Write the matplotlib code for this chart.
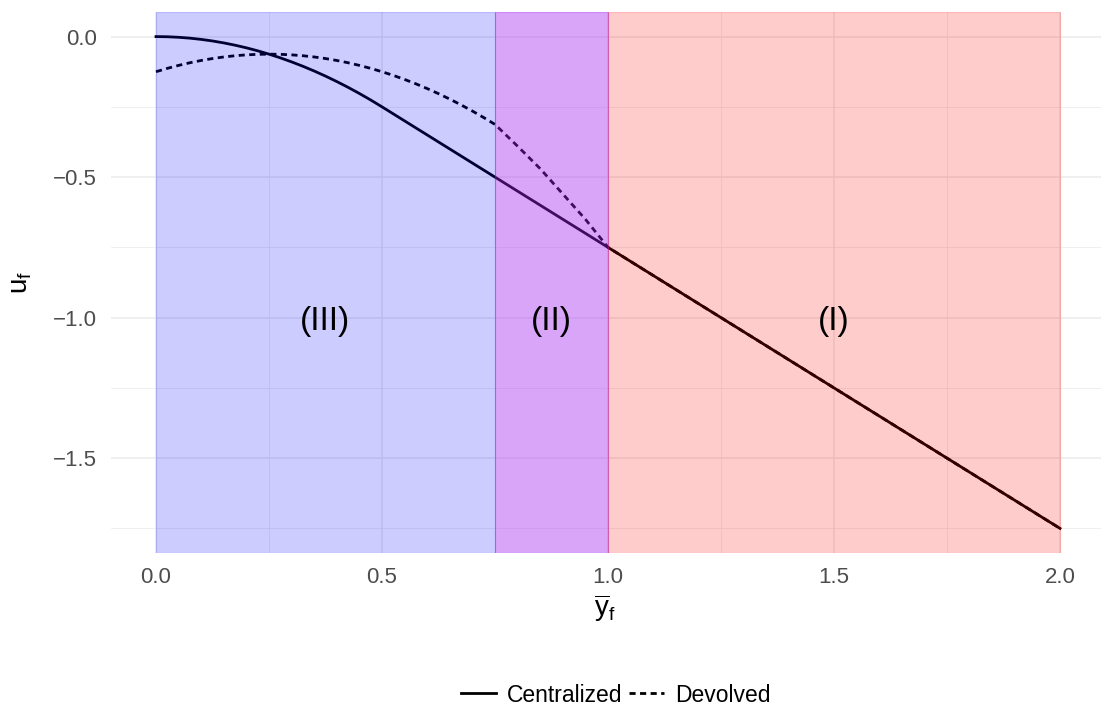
import numpy as np
import matplotlib
matplotlib.use("Agg")
import matplotlib.pyplot as plt
from matplotlib.lines import Line2D

plt.rcParams['font.family'] = ['Liberation Sans', 'DejaVu Sans']
plt.rcParams['mathtext.fontset'] = 'custom'
plt.rcParams['mathtext.rm'] = 'Liberation Sans'
plt.rcParams['mathtext.it'] = 'Liberation Sans'

# data
x_cent = [0.0, 0.025, 0.05, 0.075, 0.1, 0.125, 0.15, 0.175, 0.2, 0.225, 0.25, 0.275, 0.3,
          0.325, 0.35, 0.375, 0.4, 0.425, 0.45, 0.475, 0.5, 0.75, 1.0, 1.5, 2.0]
u_cent = [0.0, -0.0006, -0.0025, -0.0056, -0.01, -0.0156, -0.0225, -0.0306, -0.04, -0.0506,
          -0.0625, -0.0756, -0.09, -0.1056, -0.1225, -0.1406, -0.16, -0.1806, -0.2025,
          -0.2256, -0.25, -0.5, -0.75, -1.25, -1.75]

x_dev = [0.0, 0.025, 0.05, 0.075, 0.1, 0.125, 0.15, 0.175, 0.2, 0.225, 0.25, 0.275, 0.3,
         0.325, 0.35, 0.375, 0.4, 0.425, 0.45, 0.475, 0.5, 0.525, 0.55, 0.575, 0.6, 0.625,
         0.65, 0.675, 0.7, 0.725, 0.75, 0.8, 0.85, 0.9, 0.95, 1.0, 1.5, 2.0]
u_dev = [-0.125, -0.1131, -0.1025, -0.0931, -0.085, -0.0781, -0.0725, -0.0681, -0.065,
         -0.0631, -0.0625, -0.0631, -0.065, -0.0681, -0.0725, -0.0781, -0.085, -0.0931,
         -0.1025, -0.1131, -0.125, -0.1381, -0.1525, -0.1681, -0.185, -0.2031, -0.2225,
         -0.2431, -0.265, -0.2881, -0.3125, -0.39, -0.47, -0.56, -0.65, -0.75, -1.25, -1.75]

# regime regions
region_start = [0.0, 0.75, 1.0]
region_end = [0.75, 1.0, 2.0]
region_color = ['#0000FF', '#A020F0', '#FF0000']
region_alpha = [0.2, 0.4, 0.2]
region_label = ['(III)', '(II)', '(I)']
label_y = -1.0

fig = plt.figure(figsize=(11.01, 7.07), dpi=100)
ax = fig.add_axes([110.8/1101, 1 - 553/707, 994.4/1101, 541/707])

ax.set_xlim(-0.1, 2.1)
ax.set_ylim(-1.8375, 0.0875)

ax.set_xticks([0, 0.5, 1.0, 1.5, 2.0])
ax.set_xticks([0.25, 0.75, 1.25, 1.75], minor=True)
ax.set_yticks([0, -0.5, -1.0, -1.5])
ax.set_yticks([-0.25, -0.75, -1.25, -1.75], minor=True)
ax.set_xticklabels(['0.0', '0.5', '1.0', '1.5', '2.0'])
ax.set_yticklabels(['0.0', '\u22120.5', '\u22121.0', '\u22121.5'])

ax.grid(which='major', color='#EBEBEB', lw=1.1, zorder=0)
ax.grid(which='minor', color='#EBEBEB', lw=0.55, zorder=0)
ax.set_axisbelow(True)
for s in ax.spines.values():
    s.set_visible(False)
ax.tick_params(which='both', length=0, labelsize=16, labelcolor='#4D4D4D', pad=10)

ax.plot(x_cent, u_cent, color='black', lw=2.0, zorder=2)
ax.plot(x_dev, u_dev, color='black', lw=2.0, ls=(0, (2.2, 1.6)), zorder=2)

for a, b, c, al, lab in zip(region_start, region_end, region_color, region_alpha, region_label):
    ax.axvspan(a, b, facecolor=c, alpha=al, edgecolor=c, lw=0.8, zorder=3)
    ax.text((a + b) / 2, label_y, lab, ha='center', va='center_baseline', fontsize=24, zorder=4)

fig.text(605/1101, 1 - 608/707, r'$\overline{\mathrm{y}}_\mathrm{f}$', fontsize=20,
         ha='center', va='center')
fig.text(21/1101, 1 - 282/707, r'$\mathrm{u}_\mathrm{f}$', fontsize=20,
         ha='center', va='center', rotation=90)

handles = [Line2D([], [], color='black', lw=2.0),
           Line2D([], [], color='black', lw=2.0, ls=(0, (2.2, 1.6)))]
fig.legend(handles, ['Centralized', 'Devolved'], ncol=2, loc='center',
           bbox_to_anchor=(0.559, 1 - 695/707), frameon=False, fontsize=16.5,
           handlelength=1.55, handletextpad=0.45, columnspacing=0.3)

fig.savefig('out.png', dpi=100)
